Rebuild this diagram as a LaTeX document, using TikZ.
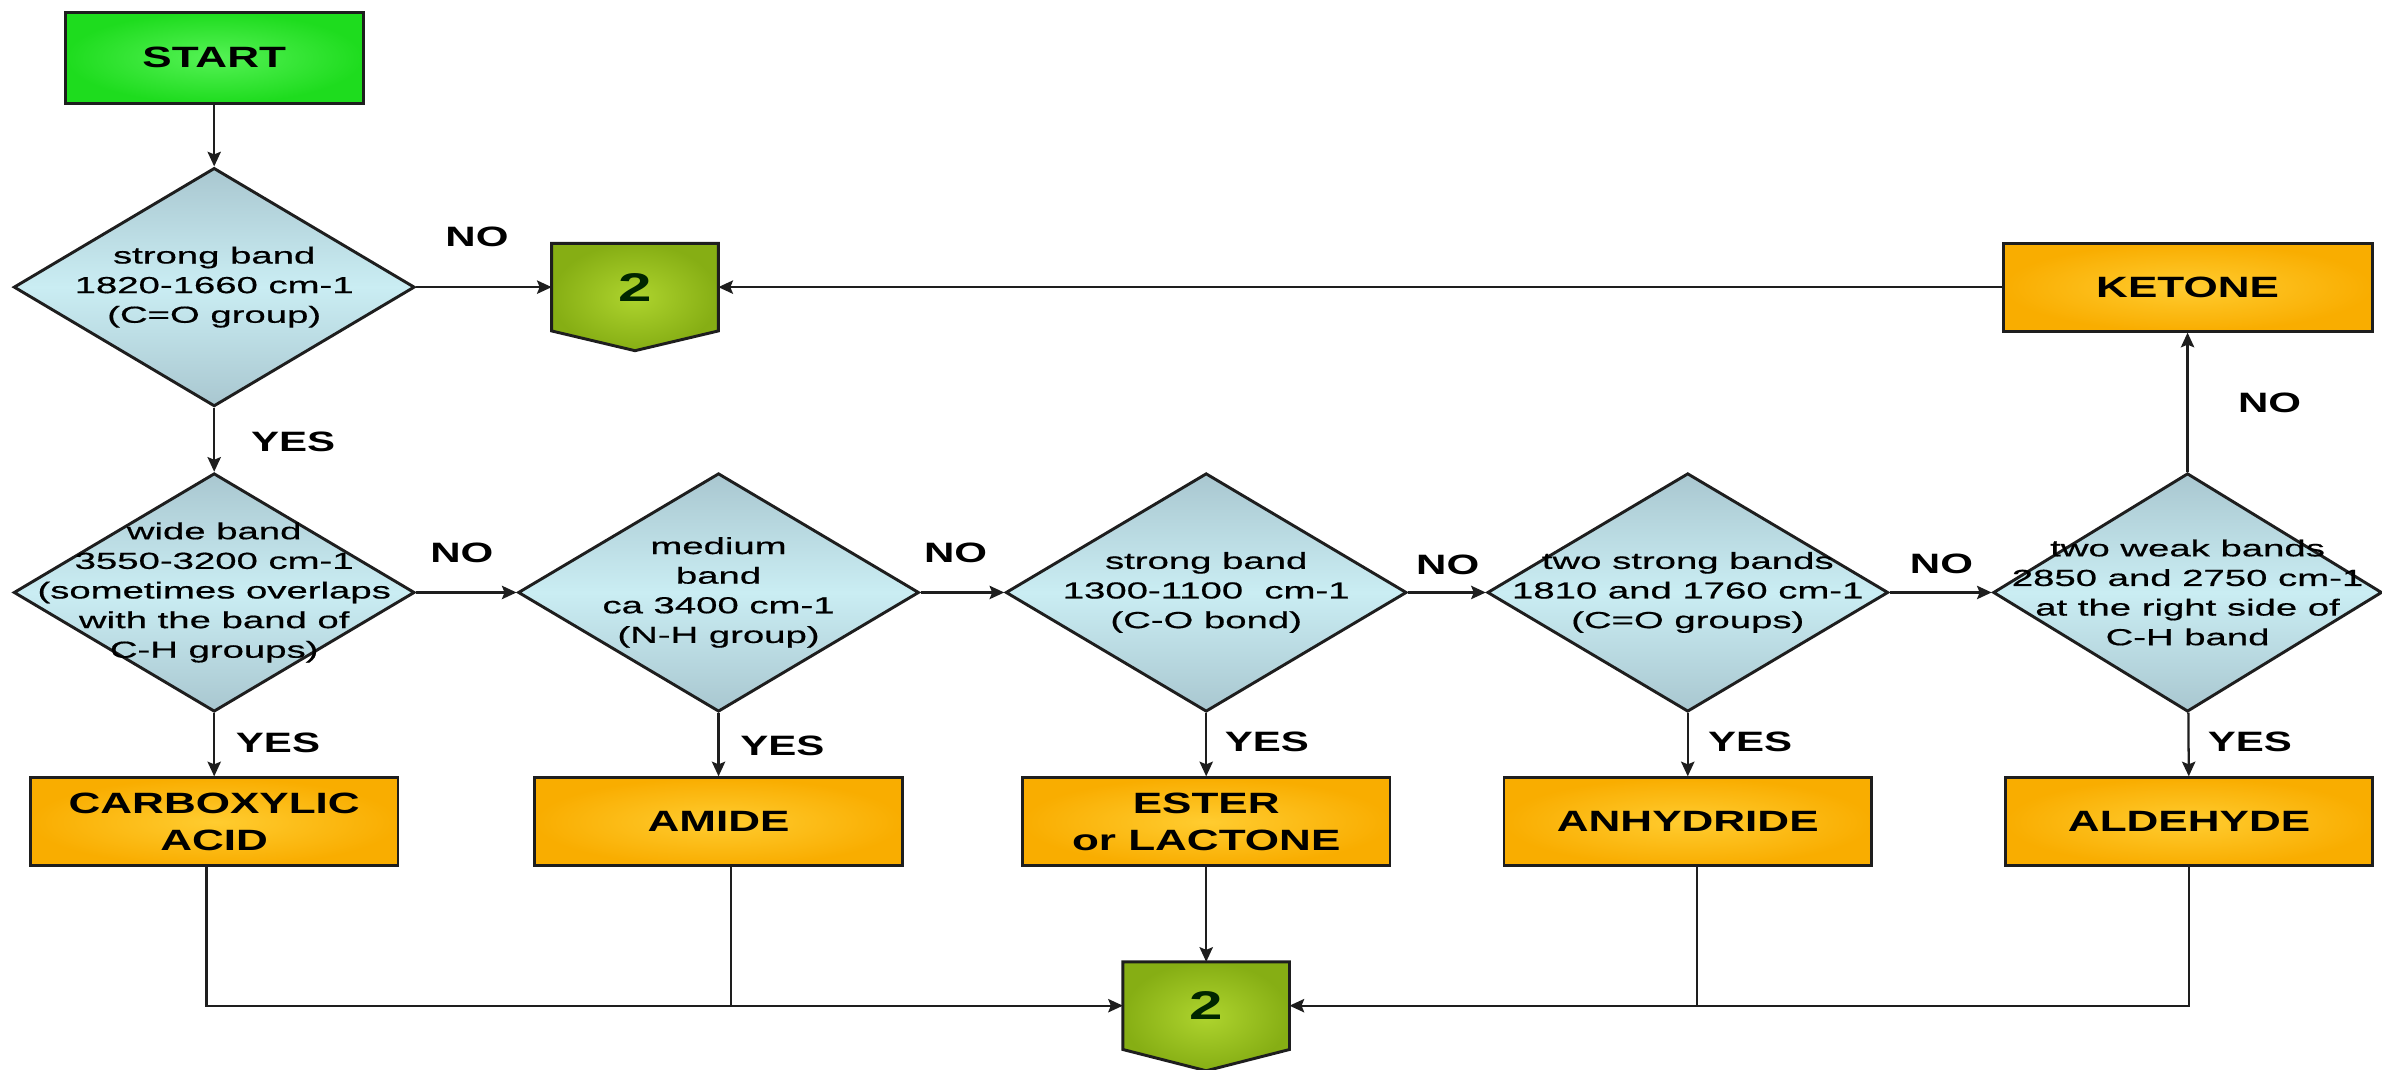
\documentclass[tikz,border=0pt]{standalone}
\usepackage{fontspec}
\setmainfont{Liberation Sans}[FakeStretch=1.5]
\newfontfamily\dfont{Liberation Sans}[FakeStretch=1.65,FakeBold=0.6]
\usetikzlibrary{shapes.geometric,arrows.meta,backgrounds,calc}
\definecolor{dialight}{HTML}{CAEDF3}
\definecolor{diadark}{HTML}{A9C7D0}
\definecolor{orgin}{HTML}{FFCC30}
\definecolor{orgout}{HTML}{F9AD00}
\definecolor{grnin}{HTML}{55F255}
\definecolor{grnout}{HTML}{1EDC1E}
\definecolor{olivein}{HTML}{AED42E}
\definecolor{oliveout}{HTML}{86AE14}
\definecolor{edge}{HTML}{1E1E1E}
\begin{document}
\begin{tikzpicture}[x=0.02cm,y=-0.02cm,
  arr/.style={draw=edge,line width=0.85pt,-{Stealth[length=5.5pt,width=5pt,inset=1pt]}},
  plain/.style={draw=edge,line width=0.85pt},
  resbox/.style={draw=edge,line width=1.1pt,inner color=orgin,outer color=orgout,
    minimum width=4.84cm,minimum height=1.16cm,align=center,inner sep=0pt,
    font=\fontsize{11}{13.6}\selectfont\bfseries},
  startbox/.style={draw=edge,line width=1.1pt,inner color=grnin,outer color=grnout,
    minimum width=3.92cm,minimum height=1.2cm,inner sep=0pt,
    font=\fontsize{11}{13.6}\selectfont\bfseries},
  dia/.style={shape=diamond,draw=edge,line width=1.1pt,inner sep=0pt,
    minimum width=5.28cm,minimum height=3.14cm,
    top color=diadark,bottom color=diadark,middle color=dialight},
  dtext/.style={align=center,inner sep=0pt,font=\dfont\fontsize{8.7}{11.1}\selectfont},
  conn/.style={minimum width=2.18cm,minimum height=1.14cm,inner sep=0pt,
    font=\fontsize{15}{18}\selectfont\bfseries,text=black!85!green},
  connshape/.style={draw=edge,line width=1.1pt,inner color=olivein,outer color=oliveout},
  lab/.style={inner sep=0pt,font=\fontsize{10.5}{12}\selectfont\bfseries}
]
\useasboundingbox (0,0) rectangle (1568,704);

% start and first decision
\node[startbox] (start) at (141,38) {START};
\node[dia] (d1) at (141,189) {};
\node[dtext] (t1) at (d1) {strong band\\1820-1660 cm-1\\(C=O group)};

% connector 2 (top)
\node[conn] (cA) at (418,189) {2};
% ketone
\node[resbox,minimum width=4.86cm] (ket) at (1440,189) {KETONE};

% second row decisions
\node[dia] (d2) at (141,390) {};
\node[dtext] (t2) at (d2) {wide band\\3550-3200 cm-1\\(sometimes overlaps\\with the band of\\C-H groups)};
\node[dia] (d3) at (473,390) {};
\node[dtext] (t3) at (d3) {medium\\band\\ca 3400 cm-1\\(N-H group)};
\node[dia] (d4) at (794,390) {};
\node[dtext] (t4) at (d4) {strong band\\1300-1100\ \ cm-1\\(C-O bond)};
\node[dia] (d5) at (1111,390) {};
\node[dtext] (t5) at (d5) {two strong bands\\1810 and 1760 cm-1\\(C=O groups)};
\node[dia,minimum width=5.12cm] (d6) at (1440,390) {};
\node[dtext] (t6) at (d6) {two weak bands\\2850 and 2750 cm-1\\at the right side of\\C-H band};

% result boxes
\node[resbox] (carb) at (141,541) {CARBOXYLIC\\ACID};
\node[resbox] (amide) at (473,541) {AMIDE};
\node[resbox] (ester) at (794,541) {ESTER\\or LACTONE};
\node[resbox] (anh) at (1111,541) {ANHYDRIDE};
\node[resbox] (ald) at (1441,541) {ALDEHYDE};

% connector 2 (bottom)
\node[conn] (cB) at (794,662) {2};

% connector shapes on background
\begin{scope}[on background layer]
  \draw[connshape] (cA.north west) -- (cA.north east) -- (cA.south east)
    -- ([yshift=-0.26cm]cA.south) -- (cA.south west) -- cycle;
  \draw[connshape] (cB.north west) -- (cB.north east) -- (cB.south east)
    -- ([yshift=-0.28cm]cB.south) -- (cB.south west) -- cycle;
\end{scope}

% connectors
\draw[arr] (start) -- (d1);
\draw[arr] (d1) -- (cA);
\draw[arr] (ket) -- (cA);
\draw[arr] (d1) -- (d2);
\draw[arr] (d2) -- (d3);
\draw[arr] (d3) -- (d4);
\draw[arr] (d4) -- (d5);
\draw[arr] (d5) -- (d6);
\draw[arr] (d6) -- (ket);
\draw[arr] (d2) -- (carb);
\draw[arr] (d3) -- (amide);
\draw[arr] (d4) -- (ester);
\draw[arr] (d5) -- (anh);
\draw[arr] (d6) -- (ald);

\draw[arr] ([xshift=-0.1cm]carb.south) |- (cB.west);
\draw[plain] ([xshift=0.16cm]amide.south) -- ([xshift=0.16cm]amide.south |- cB.west);
\draw[arr] (ester) -- (cB);
\draw[plain] ([xshift=0.12cm]anh.south) -- ([xshift=0.12cm]anh.south |- cB.east);
\draw[arr] (ald.south) |- (cB.east);

% labels
\node[lab] (n1) at (314,156) {NO};
\node[lab] (y1) at (193,291) {YES};
\node[lab] (n2) at (304,364) {NO};
\node[lab] (n3) at (629,364) {NO};
\node[lab] (n4) at (953,372) {NO};
\node[lab] (n5) at (1278,371) {NO};
\node[lab] (n6) at (1494,265) {NO};
\node[lab] (y2) at (183,489) {YES};
\node[lab] (y3) at (515,491) {YES};
\node[lab] (y4) at (834,488) {YES};
\node[lab] (y5) at (1152,488) {YES};
\node[lab] (y6) at (1481,488) {YES};
\end{tikzpicture}
\end{document}
